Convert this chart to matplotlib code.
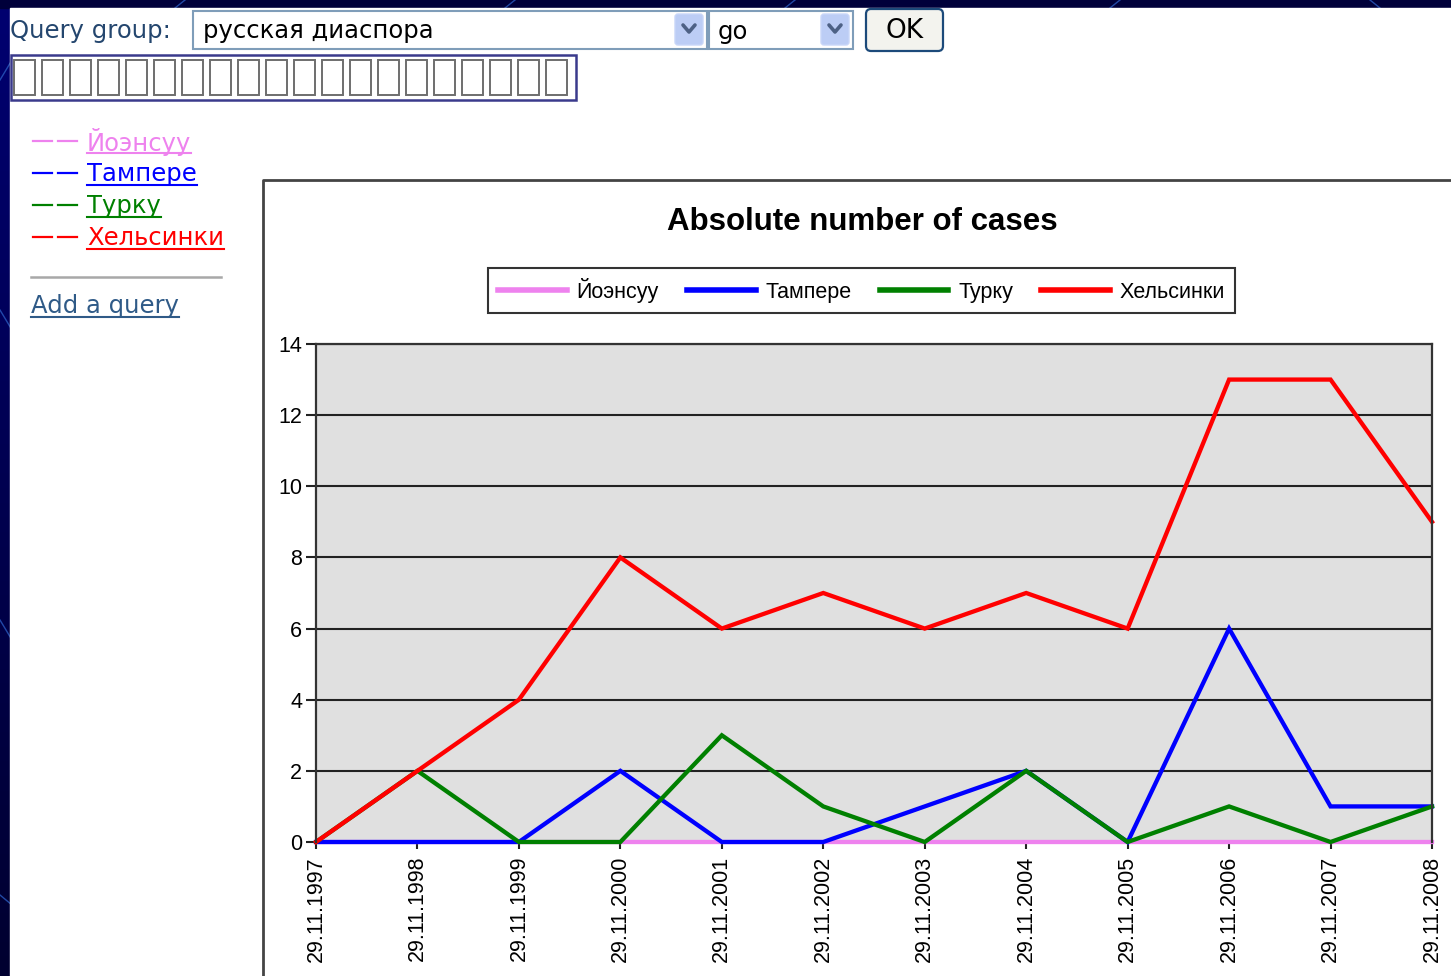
import numpy as np
import matplotlib
matplotlib.use("Agg")
import matplotlib.pyplot as plt
from matplotlib.patches import Rectangle, FancyBboxPatch

# ---- data ---------------------------------------------------------------
dates = ["29.11.1997", "29.11.1998", "29.11.1999", "29.11.2000", "29.11.2001",
         "29.11.2002", "29.11.2003", "29.11.2004", "29.11.2005", "29.11.2006",
         "29.11.2007", "29.11.2008"]
cities = ["Йоэнсуу", "Тампере", "Турку", "Хельсинки"]
joensuu = [0, 0, 0, 0, 0, 0, 0, 0, 0, 0, 0, 0]
tampere = [0, 0, 0, 2, 0, 0, 1, 2, 0, 6, 1, 1]
turku = [0, 2, 0, 0, 3, 1, 0, 2, 0, 1, 0, 1]
helsinki = [0, 2, 4, 8, 6, 7, 6, 7, 6, 13, 13, 9]
series = [joensuu, tampere, turku, helsinki]
colors = ["#EE82EE", "#0000FF", "#008000", "#FF0000"]
y_ticks = [0, 2, 4, 6, 8, 10, 12, 14]

W, H = 1451, 976
CHART_FONT = "Liberation Sans"
PAGE_FONT = "DejaVu Sans"
PAGE_SIZE = 17.5

fig = plt.figure(figsize=(W / 100, H / 100), dpi=100)

# ---- page canvas in pixel coordinates ----------------------------------
page = fig.add_axes([0, 0, 1, 1])
page.set_xlim(0, W)
page.set_ylim(H, 0)
page.axis("off")
page.set_zorder(0)

# navy background with a vertical gradient
grad = np.linspace(0, 1, 200)[:, None]
top_c = np.array([0x00, 0x00, 0x70]) / 255
bot_c = np.array([0x00, 0x00, 0x30]) / 255
img = (top_c[None, None, :] * (1 - grad[..., None]) + bot_c[None, None, :] * grad[..., None])
img = np.repeat(img, 2, axis=1)
page.imshow(img, extent=(0, W, H, 0), aspect="auto", zorder=0)
page.add_patch(Rectangle((0, 0), W, 8, color="#00003A", zorder=0.5))
# faint background strokes
for (x0, y0, x1, y1) in [(0, 310, 12, 330), (0, 620, 12, 640), (0, 895, 12, 905),
                         (0, 80, 12, 60), (175, 8, 185, 0), (505, 8, 515, 0),
                         (785, 8, 795, 0), (1110, 8, 1120, 0), (1370, 0, 1380, 8)]:
    page.plot([x0, x1], [y0, y1], color="#2A5BC0", lw=1, alpha=0.8, zorder=0.6)
# white page
page.add_patch(Rectangle((10, 8), W - 10, H - 8, color="white", zorder=1))

# ---- form controls -----------------------------------------------------
page.text(10, 31, "Query group:", fontsize=PAGE_SIZE, color="#24466E", family=PAGE_FONT,
          va="center", ha="left", zorder=3)
# select boxes
page.add_patch(Rectangle((193, 11), 514, 38, fc="white", ec="#7F9DB9", lw=1.5, zorder=2))
page.text(203, 31, "русская диаспора", fontsize=PAGE_SIZE, color="black", family=PAGE_FONT,
          va="center", ha="left", zorder=3)
page.add_patch(Rectangle((709, 11), 144, 38, fc="white", ec="#7F9DB9", lw=1.5, zorder=2))
page.text(718, 32, "go", fontsize=PAGE_SIZE, color="black", family=PAGE_FONT,
          va="center", ha="left", zorder=3)
for bx in (675, 821):
    page.add_patch(FancyBboxPatch((bx, 14), 28, 31, boxstyle="round,pad=0,rounding_size=3",
                                  fc="#BCCDF5", ec="#C8D6F8", lw=1, zorder=3))
    page.plot([bx + 8, bx + 14, bx + 20], [25, 32, 25], color="#4D6185", lw=2.6, zorder=4,
              solid_capstyle="round")
# OK button
page.add_patch(FancyBboxPatch((866, 9), 77, 42, boxstyle="round,pad=0,rounding_size=5",
                              fc="#F3F3EE", ec="#1C4A7A", lw=1.6, zorder=2))
page.text(905, 31, "OK", fontsize=PAGE_SIZE + 1.5, color="black", family=PAGE_FONT,
          va="center", ha="center", zorder=3)
# text input with unrendered characters
page.add_patch(Rectangle((11, 55), 565, 45, fc="white", ec="#3A3A8C", lw=1.8, zorder=2))
for i in range(20):
    page.add_patch(Rectangle((14 + 28 * i, 60), 21, 35, fc="none", ec="#6E6E6E", lw=1.4, zorder=3))

# ---- sidebar ----------------------------------------------------------
link_texts = []
for k, (name, col) in enumerate(zip(cities, colors)):
    y = 141 + 32 * k
    page.plot([33, 52], [y, y], color=col, lw=1.6, zorder=3)
    page.plot([58, 77], [y, y], color=col, lw=1.6, zorder=3)
    t = page.text(87, y + 1, name, fontsize=PAGE_SIZE, color=col, family=PAGE_FONT,
                  va="center", ha="left", zorder=3)
    link_texts.append((t, col, y))
page.plot([31, 221], [277, 277], color="#A8A8A8", lw=1.8, zorder=3)
t_add = page.text(31, 306, "Add a query", fontsize=PAGE_SIZE, color="#2F5A87", family=PAGE_FONT,
                  va="center", ha="left", zorder=3)
link_texts.append((t_add, "#2F5A87", 305))

# ---- chart frame -----------------------------------------------------------
page.plot([263, 263, W], [H, 180, 180], color="#444444", lw=2, zorder=2)
page.text(862, 222, "Absolute number of cases", fontsize=22.5, fontweight="bold",
          family=CHART_FONT, ha="center", va="center", zorder=3)

# ---- plot area -----------------------------------------------------------
L, R, T, B = 316, 1432, 344, 842
ax = fig.add_axes([L / W, 1 - B / H, (R - L) / W, (B - T) / H])
ax.set_zorder(2)
ax.set_facecolor("#E0E0E0")
x = np.arange(len(dates))
handles = []
for vals, col, name in zip(series, colors, cities):
    ln, = ax.plot(x, vals, color=col, lw=3.1, clip_on=False, label=name,
                  solid_joinstyle="miter")
    handles.append(ln)
ax.set_xlim(0, len(dates) - 1)
ax.set_ylim(0, 14)
ax.set_yticks(y_ticks)
ax.set_xticks(x)
ax.set_xticklabels(dates, rotation=90, fontsize=15.5, family=CHART_FONT)
ax.set_yticklabels([str(v) for v in y_ticks], fontsize=15.5, family=CHART_FONT)
ax.grid(axis="y", color="#222222", lw=1.5)
ax.set_axisbelow(True)
ax.tick_params(axis="y", length=7, width=1.5, direction="out", pad=3, color="#222222")
ax.tick_params(axis="x", length=5, width=1.5, direction="out", pad=5, color="#222222")
for s in ("left", "right", "top"):
    ax.spines[s].set_color("#333333")
    ax.spines[s].set_linewidth(1.6)
ax.spines["bottom"].set_visible(False)

leg = fig.legend(handles=handles, labels=cities, ncol=4, loc="center",
                 bbox_to_anchor=(861.5 / W, 1 - 290.5 / H),
                 prop={"family": CHART_FONT, "size": 15.5}, frameon=True, fancybox=False,
                 edgecolor="black", handlelength=3.2, handletextpad=0.45,
                 columnspacing=1.3, borderpad=0.45)
leg.get_frame().set_linewidth(1.5)
for lh in leg.get_lines():
    lh.set_linewidth(4)

# underline the sidebar links
fig.canvas.draw()
renderer = fig.canvas.get_renderer()
inv = page.transData.inverted()
for t, col, y in link_texts:
    bb = t.get_window_extent(renderer)
    (x0, _), (x1, _) = inv.transform([(bb.x0, bb.y0), (bb.x1, bb.y1)])
    page.plot([x0, x1], [y + 12, y + 12], color=col, lw=1.5, zorder=3)

fig.savefig("out.png", dpi=100)
